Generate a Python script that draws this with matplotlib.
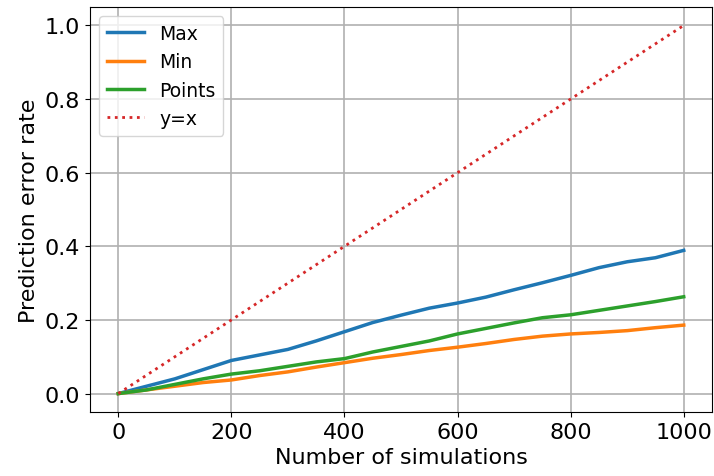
import numpy as np
import matplotlib
matplotlib.use("Agg")
import matplotlib.pyplot as plt

# Values (every 50 simulations)
n_sims = [0, 50, 100, 150, 200, 250, 300, 350, 400, 450, 500,
          550, 600, 650, 700, 750, 800, 850, 900, 950, 1000]
err_max = [0.0, 0.02, 0.04, 0.065, 0.09, 0.105, 0.12, 0.143, 0.168, 0.193, 0.213,
           0.232, 0.246, 0.262, 0.282, 0.301, 0.321, 0.342, 0.358, 0.369, 0.389]
err_min = [0.0, 0.01, 0.02, 0.03, 0.037, 0.049, 0.059, 0.072, 0.084, 0.096, 0.106,
           0.117, 0.126, 0.136, 0.147, 0.156, 0.162, 0.166, 0.171, 0.179, 0.186]
err_points = [0.0, 0.01, 0.025, 0.04, 0.053, 0.062, 0.074, 0.086, 0.095, 0.113, 0.128,
              0.143, 0.162, 0.177, 0.192, 0.206, 0.214, 0.226, 0.238, 0.25, 0.263]

fig = plt.figure(figsize=(7.14, 4.77), dpi=100)
ax = fig.add_axes([90/714, 1 - 413/477, (712 - 90)/714, (413 - 8)/477])

ax.plot(n_sims, err_max, lw=2.5, label="Max")
ax.plot(n_sims, err_min, lw=2.5, label="Min")
ax.plot(n_sims, err_points, lw=2.5, label="Points")
ax.plot([n_sims[0], n_sims[-1]], [0, 1], ":", color="tab:red", lw=2, label="y=x")

ax.set_xlabel("Number of simulations", fontsize=16)
ax.set_ylabel("Prediction error rate", fontsize=16)
ax.tick_params(labelsize=16)
ax.set_xticks([0, 200, 400, 600, 800, 1000])
ax.set_yticks([0.0, 0.2, 0.4, 0.6, 0.8, 1.0])
ax.set_xlim(-50, 1050)
ax.set_ylim(-0.05, 1.05)
ax.grid(True, lw=1.2)
ax.legend(fontsize=13.5, loc="upper left")

fig.savefig("out.png", dpi=100)
